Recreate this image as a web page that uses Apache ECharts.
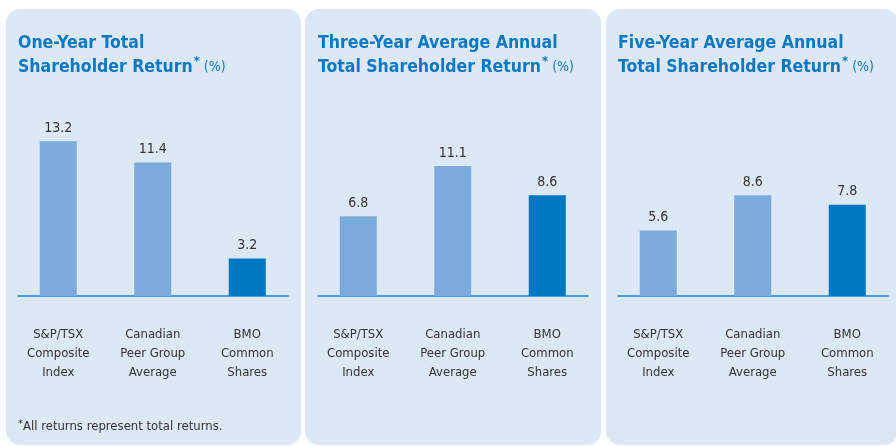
<!DOCTYPE html>
<html>
<head>
<meta charset="utf-8">
<script src="https://cdn.jsdelivr.net/npm/echarts@6/dist/echarts.min.js"></script>
<style>
html,body{margin:0;padding:0;background:#fff;}
#c{width:896px;height:446px;}
</style>
</head>
<body>
<div id="c"></div>
<script>
const categories = ['S&P/TSX\nComposite\nIndex', 'Canadian\nPeer Group\nAverage', 'BMO\nCommon\nShares'];
const oneYear = [13.2, 11.4, 3.2];
const threeYear = [6.8, 11.1, 8.6];
const fiveYear = [5.6, 8.6, 7.8];
const titleLine1 = ['One-Year Total', 'Three-Year Average Annual', 'Five-Year Average Annual'];
const titleLine2 = ['Shareholder Return', 'Total Shareholder Return', 'Total Shareholder Return'];
const footnote = 'All returns represent total returns.';

const seriesData = [oneYear, threeYear, fiveYear];
const BLUE = '#0a78c2';
const LIGHT = '#7babdc';
const DARK = '#0077c1';
const PANEL = '#dce8f5';
const TEXT = '#333333';
const FONT = '"DejaVu Sans Condensed", "Liberation Sans Narrow", sans-serif';

const chart = echarts.init(document.getElementById('c'), null, {renderer: 'canvas'});

const grids = [], xAxes = [], yAxes = [], series = [], titles = [], graphics = [];
const panelX = [6, 305, 606];
const panelW = [295, 296, 292];

for (let k = 0; k < 3; k++) {
  const off = 300 * k;
  graphics.push({
    type: 'rect', z: -10, silent: true,
    shape: {x: panelX[k], y: 9, width: panelW[k], height: 436, r: 14},
    style: {fill: PANEL}
  });
  grids.push({left: 11 + off, width: 283.5, top: 132, height: 164, containLabel: false});
  grids.push({left: 18 + off, width: 270, top: 132, height: 164, containLabel: false});
  const gBar = 2 * k, gLine = 2 * k + 1;
  xAxes.push({
    type: 'category', gridIndex: gBar, data: categories,
    axisLine: {show: false}, axisTick: {show: false},
    axisLabel: {
      interval: 0, margin: 29, color: TEXT, fontFamily: FONT, fontSize: 13, lineHeight: 19
    }
  });
  xAxes.push({
    type: 'category', gridIndex: gLine, data: [''],
    axisLine: {show: true, lineStyle: {color: '#1a86cf', width: 1.5}},
    axisTick: {show: false}, axisLabel: {show: false}
  });
  yAxes.push({type: 'value', gridIndex: gBar, min: 0, max: 14, show: false, splitLine: {show: false}});
  yAxes.push({type: 'value', gridIndex: gLine, min: 0, max: 14, show: false, splitLine: {show: false}});
  series.push({
    type: 'bar', xAxisIndex: gBar, yAxisIndex: gBar,
    barWidth: 37,
    data: seriesData[k].map((v, i) => ({value: v, itemStyle: {color: i === 2 ? DARK : LIGHT}})),
    label: {
      show: true, position: 'top', distance: 6, color: TEXT,
      fontFamily: FONT, fontSize: 14,
      formatter: p => p.value.toFixed(1)
    },
    animation: false
  });
  titles.push({
    left: 18 + off, top: 31, padding: 0,
    text: '{t|' + titleLine1[k] + '}\n{t|' + titleLine2[k] + '}{a|*}{p| (%)}',
    textStyle: {
      fontWeight: 'normal',
      rich: {
        t: {fontFamily: FONT, fontWeight: 'bold', fontSize: 17.5, color: BLUE, lineHeight: 24},
        a: {fontFamily: FONT, fontWeight: 'bold', fontSize: 13, color: BLUE, lineHeight: 24, verticalAlign: 'top', padding: [0, 0, 8, 1]},
        p: {fontFamily: FONT, fontWeight: 'normal', fontSize: 14, color: BLUE, lineHeight: 24}
      }
    }
  });
}

titles.push({
  left: 18, top: 417, padding: 0,
  text: '{a|*}{f|' + footnote + '}',
  textStyle: {
    fontWeight: 'normal',
    rich: {
      a: {fontFamily: FONT, fontWeight: 'normal', fontSize: 11, color: TEXT, lineHeight: 20, padding: [0, 0, 6, 0]},
      f: {fontFamily: FONT, fontWeight: 'normal', fontSize: 13, color: TEXT, lineHeight: 20}
    }
  }
});

chart.setOption({
  backgroundColor: '#ffffff',
  animation: false,
  title: titles,
  grid: grids,
  xAxis: xAxes,
  yAxis: yAxes,
  series: series,
  graphic: graphics
});
</script>
</body>
</html>
